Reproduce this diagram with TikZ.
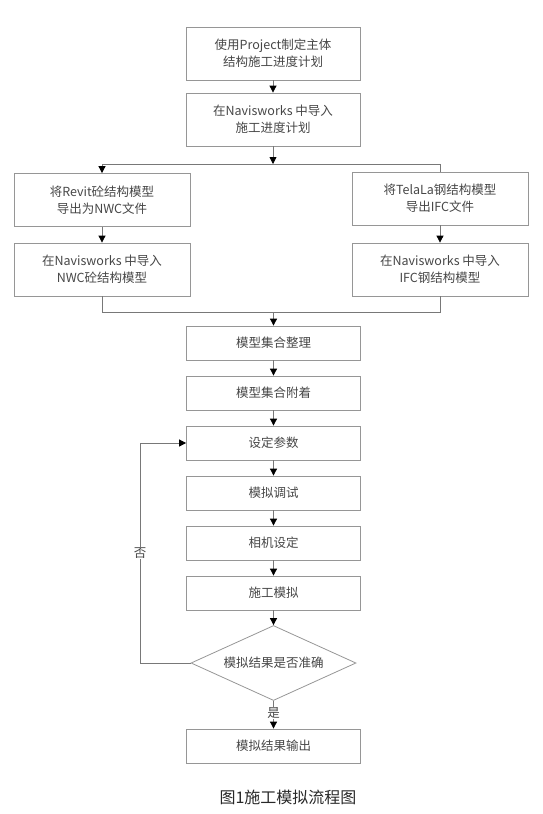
\documentclass[tikz,border=0pt]{standalone}
\usepackage{fontspec}
\setmainfont{Noto Sans CJK SC}
\usetikzlibrary{arrows.meta,shapes.geometric}
\definecolor{boxline}{RGB}{150,150,150}
\definecolor{boxtext}{RGB}{70,70,70}
\definecolor{linkline}{RGB}{120,120,120}
\tikzset{
	box/.style={draw=boxline, line width=0.8pt, rectangle, minimum width=174pt, minimum height=34pt, inner sep=0pt, align=center, text=boxtext, font=\fontsize{12.5}{17}\selectfont},
	tallbox/.style={box, minimum height=53pt},
	decision/.style={draw=boxline, line width=0.8pt, diamond, aspect=2.2, minimum width=165pt, minimum height=75pt, inner sep=0pt, text=boxtext, font=\fontsize{12.5}{17}\selectfont},
	link/.style={draw=linkline, line width=0.8pt},
	arrow/.style={link, -{Triangle[length=7pt,width=7pt,color=black]}},
	tag/.style={fill=white, inner sep=0.5pt, text=boxtext, font=\fontsize{12.5}{15}\selectfont}
}

\begin{document}
\begin{tikzpicture}[x=1pt,y=1pt,yscale=-1,xscale=1]
	\useasboundingbox (0,0) rectangle (542,814);

	\node [tallbox] (plan) at (273,53.5) {使用Project制定主体\\结构施工进度计划};
	\node [tallbox] (import) at (273,119.5) {在Navisworks 中导入\\施工进度计划};
	\node [tallbox, minimum width=176pt] (revit) at (102,200) {将Revit砼结构模型\\导出为NWC文件};
	\node [tallbox, minimum width=176pt] (tekla) at (440,198.5) {将TelaLa钢结构模型\\导出IFC文件};
	\node [tallbox, minimum width=176pt] (nwc) at (102,269.5) {在Navisworks 中导入\\NWC砼结构模型};
	\node [tallbox, minimum width=176pt] (ifc) at (440,269.5) {在Navisworks 中导入\\IFC钢结构模型};
	\node [box] (sort) at (273.5,343) {模型集合整理};
	\node [box] (attach) at (273.5,393) {模型集合附着};
	\node [box] (param) at (273.5,443) {设定参数};
	\node [box] (debug) at (273.5,493) {模拟调试};
	\node [box] (camera) at (273.5,543) {相机设定};
	\node [box] (simulate) at (273.5,593) {施工模拟};
	\node [decision] (check) at (273.5,663) {模拟结果是否准确};
	\node [box] (output) at (273.5,746) {模拟结果输出};
	\node [font=\fontsize{16}{18}\selectfont, text={rgb,255:red,40;green,40;blue,40}] (caption) at (288,797) {图1施工模拟流程图};

	\coordinate (split) at (273,164);
	\coordinate (splitL) at (102,164);
	\coordinate (splitR) at (440,164);
	\coordinate (mergeL) at (102,312);
	\coordinate (mergeR) at (440,312);
	\coordinate (merge) at (273.5,312);
	\coordinate (backB) at (140,663);
	\coordinate (backT) at (140,443);

	\draw [arrow] (plan) -- (import);
	\draw [arrow] (import) -- (split);
	\draw [link] (splitL) -- (splitR);
	\draw [arrow] (splitL) -- (revit);
	\draw [link] (splitR) -- (tekla);
	\draw [arrow] (revit) -- (nwc);
	\draw [arrow] (tekla) -- (ifc);
	\draw [link] (nwc) -- (mergeL) -- (mergeR) -- (ifc);
	\draw [arrow] (merge) -- (sort);
	\draw [arrow] (sort) -- (attach);
	\draw [arrow] (attach) -- (param);
	\draw [arrow] (param) -- (debug);
	\draw [arrow] (debug) -- (camera);
	\draw [arrow] (camera) -- (simulate);
	\draw [arrow] (simulate) -- (check);
	\draw [arrow] (check.west) -- (backB) -- node [tag, pos=0.5] (no) {否} (backT) -- (param.west);
	\draw [arrow] (check.south) -- node [tag, pos=0.45] (yes) {是} (output);
\end{tikzpicture}
\end{document}
